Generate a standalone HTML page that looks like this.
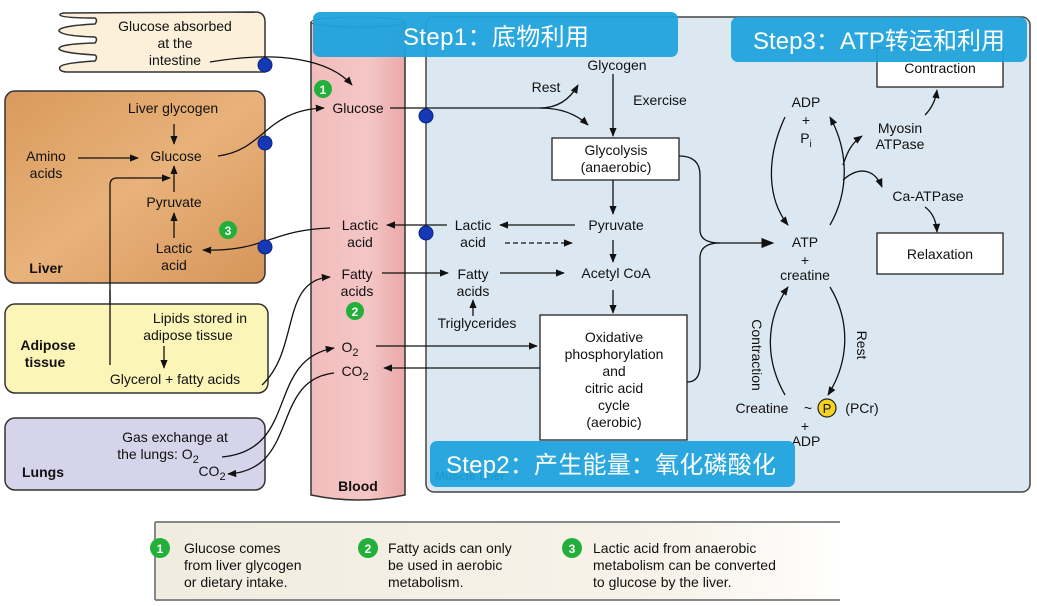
<!DOCTYPE html>
<html><head><meta charset="utf-8"><style>
html,body{margin:0;padding:0;background:#fff;}
svg{display:block;font-family:"Liberation Sans",Arial,sans-serif;}
.t{font-size:14px;fill:#111;text-anchor:middle;}
.b{font-weight:bold;}
.cn{font-family:"Liberation Sans","Noto Sans CJK SC",sans-serif;font-size:24px;fill:#fff;}
</style></head><body>
<svg width="1037" height="606" viewBox="0 0 1037 606" xmlns="http://www.w3.org/2000/svg">
<defs>
<marker id="a" viewBox="0 0 10 10" refX="9" refY="5" markerWidth="7" markerHeight="7" orient="auto-start-reverse"><path d="M0,1 L10,5 L0,9 z" fill="#111"/></marker>
<marker id="A" viewBox="0 0 10 10" refX="9" refY="5" markerWidth="10" markerHeight="10" orient="auto"><path d="M0,1 L10,5 L0,9 z" fill="#111"/></marker>
<linearGradient id="liv" x1="0" y1="0" x2="1" y2="1"><stop offset="0" stop-color="#d99a5c"/><stop offset="0.5" stop-color="#e8b27a"/><stop offset="1" stop-color="#d6955a"/></linearGradient>
<linearGradient id="bl" x1="0" x2="1"><stop offset="0" stop-color="#f2bcbc"/><stop offset="0.6" stop-color="#f5c6c6"/><stop offset="1" stop-color="#e9a9a9"/></linearGradient>
<linearGradient id="lg" x1="0" x2="1"><stop offset="0" stop-color="#f1ece0"/><stop offset="0.75" stop-color="#f7f3ea"/><stop offset="1" stop-color="#fff"/></linearGradient>
</defs>

<!-- muscle fiber -->
<rect x="426" y="17" width="604" height="475" rx="8" fill="#dce8f1" stroke="#444" stroke-width="1.5"/>
<text x="470" y="480" class="t b" fill="#333" style="font-size:12px">Muscle fiber</text>

<!-- blood -->
<path d="M311,22 L311,495 Q358,505 405,495 L405,22" fill="url(#bl)" stroke="#333" stroke-width="1.5"/>
<ellipse cx="358" cy="22" rx="47" ry="5" fill="none" stroke="#333" stroke-width="1"/>
<text x="358" y="491" class="t b">Blood</text>

<!-- intestine -->
<path d="M65,13 L255,12 Q265,12 265,22 L265,72 L66,72 Q58,71 60,67 Q62,63 95,61 Q98,57 95,55 Q62,53 59,49 Q58,44 95,43 Q98,39 95,37 Q62,36 59,31 Q58,26 95,24 Q98,20 95,18 Q62,18 60,15 Q60,13 65,13 z" fill="#fcf0da" stroke="#333" stroke-width="1.5"/>
<text x="175" y="31" class="t">Glucose absorbed</text>
<text x="175" y="48" class="t">at the</text>
<text x="175" y="65" class="t">intestine</text>

<!-- liver -->
<rect x="5" y="91" width="260" height="192" rx="10" fill="url(#liv)" stroke="#333" stroke-width="1.5"/>
<text x="173" y="113" class="t">Liver glycogen</text>
<text x="176" y="161" class="t">Glucose</text>
<text x="46" y="161" class="t">Amino</text>
<text x="46" y="178" class="t">acids</text>
<text x="174" y="207" class="t">Pyruvate</text>
<text x="174" y="253" class="t">Lactic</text>
<text x="174" y="270" class="t">acid</text>
<text x="46" y="273" class="t b">Liver</text>
<line x1="174" y1="124" x2="174" y2="144" stroke="#111" stroke-width="1.3" marker-end="url(#a)"/>
<line x1="78" y1="158" x2="138" y2="158" stroke="#111" stroke-width="1.3" marker-end="url(#a)"/>
<line x1="174" y1="192" x2="174" y2="166" stroke="#111" stroke-width="1.3" marker-end="url(#a)"/>
<line x1="174" y1="238" x2="174" y2="213" stroke="#111" stroke-width="1.3" marker-end="url(#a)"/>
<path d="M110,305 L110,185 Q110,178 117,178 L170,178" fill="none" stroke="#111" stroke-width="1.3" marker-end="url(#a)"/>

<!-- adipose -->
<rect x="5" y="304" width="263" height="89" rx="10" fill="#fbf5b8" stroke="#333" stroke-width="1.5"/>
<line x1="110" y1="290" x2="110" y2="365" stroke="#111" stroke-width="1.3"/>
<text x="48" y="350" class="t b">Adipose</text>
<text x="45" y="367" class="t b">tissue</text>
<text x="200" y="323" class="t">Lipids stored in</text>
<text x="188" y="340" class="t">adipose tissue</text>
<line x1="164" y1="346" x2="164" y2="368" stroke="#111" stroke-width="1.3" marker-end="url(#a)"/>
<text x="175" y="384" class="t">Glycerol + fatty acids</text>

<!-- lungs -->
<rect x="5" y="418" width="260" height="72" rx="10" fill="#d6d4ea" stroke="#333" stroke-width="1.5"/>
<text x="175" y="442" class="t">Gas exchange at</text>
<text x="158" y="459" class="t">the lungs:  O<tspan dy="4" style="font-size:11px">2</tspan></text>
<text x="212" y="476" class="t">CO<tspan dy="4" style="font-size:11px">2</tspan></text>
<text x="43" y="477" class="t b">Lungs</text>

<!-- blood labels -->
<text x="358" y="113" class="t">Glucose</text>
<text x="360" y="230" class="t">Lactic</text>
<text x="360" y="247" class="t">acid</text>
<text x="357" y="279" class="t">Fatty</text>
<text x="357" y="296" class="t">acids</text>
<text x="350" y="352" class="t">O<tspan dy="4" style="font-size:11px">2</tspan></text>
<text x="355" y="376" class="t">CO<tspan dy="4" style="font-size:11px">2</tspan></text>

<!-- connectors left -->
<path d="M210,62 C280,50 330,60 352,85" fill="none" stroke="#111" stroke-width="1.3" marker-end="url(#a)"/>
<path d="M218,156 C265,150 265,110 324,108" fill="none" stroke="#111" stroke-width="1.3" marker-end="url(#a)"/>
<path d="M330,228 C270,230 265,252 203,250" fill="none" stroke="#111" stroke-width="1.3" marker-end="url(#a)"/>
<path d="M262,385 C300,350 280,280 330,277" fill="none" stroke="#111" stroke-width="1.3" marker-end="url(#a)"/>
<path d="M222,457 C300,450 265,360 334,348" fill="none" stroke="#111" stroke-width="1.3" marker-end="url(#a)"/>
<path d="M334,373 C270,380 300,470 228,474" fill="none" stroke="#111" stroke-width="1.3" marker-end="url(#a)"/>

<!-- blood to muscle -->
<path d="M390,108 L540,108 Q570,108 588,125" fill="none" stroke="#111" stroke-width="1.3" marker-end="url(#a)"/>
<path d="M540,108 Q565,108 578,85" fill="none" stroke="#111" stroke-width="1.3" marker-end="url(#a)"/>
<line x1="447" y1="225" x2="387" y2="225" stroke="#111" stroke-width="1.3" marker-end="url(#a)"/>
<line x1="382" y1="273" x2="448" y2="273" stroke="#111" stroke-width="1.3" marker-end="url(#a)"/>
<line x1="376" y1="346" x2="537" y2="346" stroke="#111" stroke-width="1.3" marker-end="url(#a)"/>
<line x1="540" y1="368" x2="384" y2="368" stroke="#111" stroke-width="1.3" marker-end="url(#a)"/>

<!-- muscle texts -->
<text x="473" y="230" class="t">Lactic</text>
<text x="473" y="247" class="t">acid</text>
<text x="473" y="279" class="t">Fatty</text>
<text x="473" y="296" class="t">acids</text>
<text x="477" y="328" class="t">Triglycerides</text>
<line x1="473" y1="316" x2="473" y2="300" stroke="#111" stroke-width="1.3" marker-end="url(#a)"/>
<line x1="575" y1="225" x2="500" y2="225" stroke="#111" stroke-width="1.3" marker-end="url(#a)"/>
<line x1="505" y1="243" x2="572" y2="243" stroke="#111" stroke-width="1.3" stroke-dasharray="5,3" marker-end="url(#a)"/>
<line x1="500" y1="273" x2="564" y2="273" stroke="#111" stroke-width="1.3" marker-end="url(#a)"/>
<text x="546" y="92" class="t">Rest</text>
<text x="617" y="70" class="t">Glycogen</text>
<text x="660" y="105" class="t">Exercise</text>
<line x1="613" y1="74" x2="613" y2="136" stroke="#111" stroke-width="1.3" marker-end="url(#a)"/>
<rect x="552" y="138" width="127" height="42" fill="#fff" stroke="#222" stroke-width="1.3"/>
<text x="616" y="155" class="t">Glycolysis</text>
<text x="616" y="172" class="t">(anaerobic)</text>
<line x1="613" y1="180" x2="613" y2="214" stroke="#111" stroke-width="1.3" marker-end="url(#a)"/>
<text x="616" y="230" class="t">Pyruvate</text>
<line x1="613" y1="240" x2="613" y2="262" stroke="#111" stroke-width="1.3" marker-end="url(#a)"/>
<text x="616" y="278" class="t">Acetyl CoA</text>
<line x1="613" y1="290" x2="613" y2="313" stroke="#111" stroke-width="1.3" marker-end="url(#a)"/>
<rect x="540" y="315" width="147" height="125" fill="#fff" stroke="#222" stroke-width="1.3"/>
<text x="614" y="342" class="t">Oxidative</text>
<text x="614" y="359" class="t">phosphorylation</text>
<text x="614" y="376" class="t">and</text>
<text x="614" y="393" class="t">citric acid</text>
<text x="614" y="410" class="t">cycle</text>
<text x="614" y="427" class="t">(aerobic)</text>
<path d="M679,156 Q700,156 700,175 L700,230 Q700,243 720,243 L773,243" fill="none" stroke="#111" stroke-width="1.3" marker-end="url(#A)"/>
<path d="M687,382 Q700,382 700,365 L700,258 Q700,243 720,243" fill="none" stroke="#111" stroke-width="1.3"/>

<!-- ATP cycle -->
<text x="806" y="107" class="t">ADP</text>
<text x="806" y="125" class="t">+</text>
<text x="806" y="143" class="t">P<tspan dy="4" style="font-size:10px">i</tspan></text>
<text x="805" y="247" class="t">ATP</text>
<text x="805" y="265" class="t">+</text>
<text x="805" y="280" class="t">creatine</text>
<path d="M785,117 C765,160 768,200 788,225" fill="none" stroke="#111" stroke-width="1.3" marker-end="url(#a)"/>
<path d="M830,225 C850,190 848,150 830,117" fill="none" stroke="#111" stroke-width="1.3" marker-end="url(#a)"/>
<path d="M843,165 C848,150 852,143 862,136" fill="none" stroke="#111" stroke-width="1.3" marker-end="url(#a)"/>
<path d="M843,180 C860,165 875,170 882,187" fill="none" stroke="#111" stroke-width="1.3" marker-end="url(#a)"/>
<text x="900" y="133" class="t">Myosin</text>
<text x="900" y="149" class="t">ATPase</text>
<text x="928" y="201" class="t">Ca-ATPase</text>
<path d="M925,115 Q935,105 937,90" fill="none" stroke="#111" stroke-width="1.3" marker-end="url(#a)"/>
<path d="M925,207 Q936,215 937,232" fill="none" stroke="#111" stroke-width="1.3" marker-end="url(#a)"/>
<rect x="877" y="48" width="126" height="39" fill="#fff" stroke="#222" stroke-width="1.3"/>
<text x="940" y="73" class="t">Contraction</text>
<rect x="877" y="233" width="126" height="41" fill="#fff" stroke="#222" stroke-width="1.3"/>
<text x="940" y="259" class="t">Relaxation</text>
<path d="M785,395 C765,360 765,320 788,287" fill="none" stroke="#111" stroke-width="1.3" marker-end="url(#a)"/>
<path d="M830,287 C850,320 850,360 828,395" fill="none" stroke="#111" stroke-width="1.3" marker-end="url(#a)"/>
<text x="752" y="355" class="t" transform="rotate(90 752 355)">Contraction</text>
<text x="857" y="345" class="t" transform="rotate(90 857 345)">Rest</text>
<text x="762" y="413" class="t">Creatine</text>
<text x="808" y="413" class="t">~</text>
<circle cx="827" cy="408" r="9" fill="#f5d31f" stroke="#222" stroke-width="1.2"/>
<text x="827" y="413" class="t" style="font-size:13px">P</text>
<text x="862" y="413" class="t">(PCr)</text>
<text x="805" y="431" class="t">+</text>
<text x="806" y="446" class="t">ADP</text>

<!-- blue dots -->
<g fill="#1538b5" stroke="#0b2380" stroke-width="1">
<circle cx="265" cy="65" r="7"/><circle cx="265" cy="143" r="7"/><circle cx="265" cy="247" r="7"/>
<circle cx="426" cy="116" r="7"/><circle cx="426" cy="233" r="7"/>
</g>
<!-- green numbers -->
<g>
<circle cx="323" cy="89" r="9" fill="#22b03a"/><text x="323" y="94" class="t b" style="fill:#fff;font-size:12px">1</text>
<circle cx="355" cy="311" r="9" fill="#22b03a"/><text x="355" y="316" class="t b" style="fill:#fff;font-size:12px">2</text>
<circle cx="228" cy="230" r="9" fill="#22b03a"/><text x="228" y="235" class="t b" style="fill:#fff;font-size:12px">3</text>
</g>

<!-- banners -->
<rect x="313" y="12" width="365" height="45" rx="7" fill="#1fa3dc" opacity="0.95"/>
<text x="403" y="45" class="cn" textLength="186">Step1：底物利用</text>
<rect x="731" y="17" width="296" height="45" rx="7" fill="#1fa3dc" opacity="0.95"/>
<text x="753" y="49" class="cn" textLength="252">Step3：ATP转运和利用</text>
<rect x="430" y="441" width="365" height="46" rx="7" fill="#1fa3dc" opacity="0.95"/>
<text x="446" y="473" class="cn" textLength="330">Step2：产生能量：氧化磷酸化</text>

<!-- legend -->
<rect x="155" y="522" width="690" height="78" fill="url(#lg)"/>
<line x1="155" y1="522" x2="840" y2="522" stroke="#888" stroke-width="2"/>
<line x1="155" y1="600" x2="840" y2="600" stroke="#888" stroke-width="2"/>
<line x1="155" y1="522" x2="155" y2="600" stroke="#888" stroke-width="2"/>
<circle cx="160" cy="548" r="10" fill="#22b03a"/><text x="160" y="553" class="t b" style="fill:#fff;font-size:12px">1</text>
<circle cx="368" cy="548" r="10" fill="#22b03a"/><text x="368" y="553" class="t b" style="fill:#fff;font-size:12px">2</text>
<circle cx="572" cy="548" r="10" fill="#22b03a"/><text x="572" y="553" class="t b" style="fill:#fff;font-size:12px">3</text>
<g style="font-size:14px;fill:#111">
<text x="184" y="553">Glucose comes</text>
<text x="184" y="570">from liver glycogen</text>
<text x="184" y="587">or dietary intake.</text>
<text x="388" y="553">Fatty acids can only</text>
<text x="388" y="570">be used in aerobic</text>
<text x="388" y="587">metabolism.</text>
<text x="593" y="553">Lactic acid from anaerobic</text>
<text x="593" y="570">metabolism can be converted</text>
<text x="593" y="587">to glucose by the liver.</text>
</g>
</svg>
</body></html>
